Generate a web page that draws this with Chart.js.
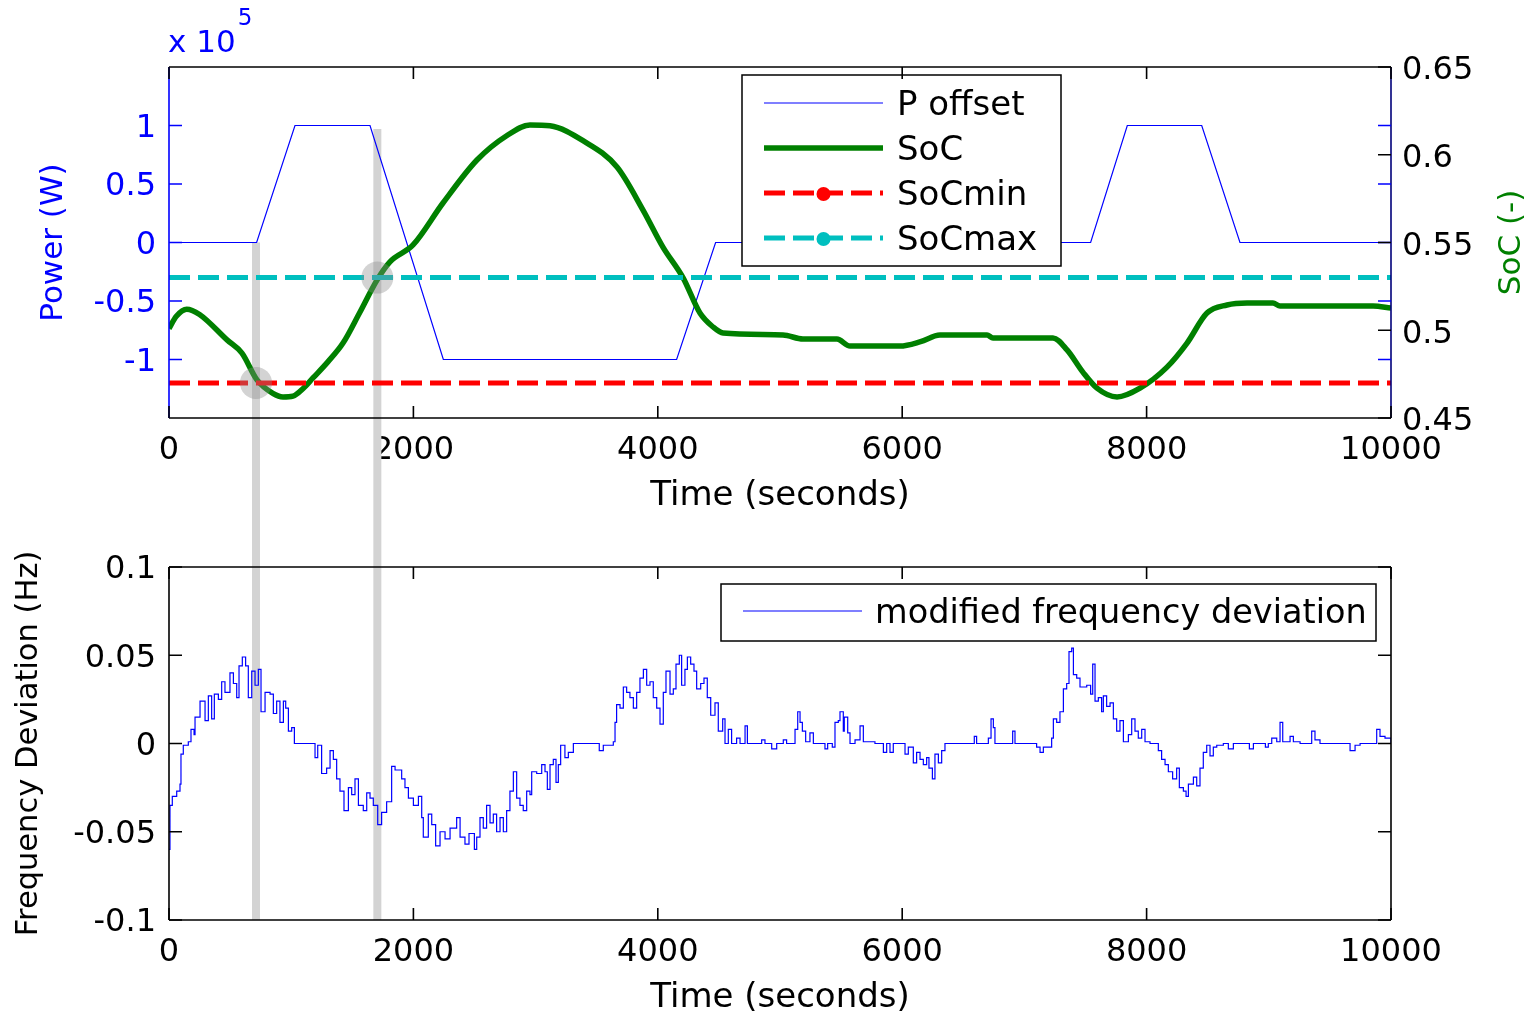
<!DOCTYPE html>
<html>
<head>
<meta charset="utf-8">
<title>P offset, SoC and frequency deviation</title>
<script src="https://cdn.jsdelivr.net/npm/chart.js@4.4.1/dist/chart.umd.min.js"></script>
<style>
    html, body { margin: 0; padding: 0; background: #fff; overflow: hidden; }
    #wrap { position: relative; width: 1534px; height: 1012px; }
    canvas { position: absolute; left: 0; }
    #topChart { top: 0; }
    #bottomChart { top: 530px; }
</style>
</head>
<body>
<div id="wrap">
    <canvas id="topChart" width="1534" height="530"></canvas>
    <canvas id="bottomChart" width="1534" height="500"></canvas>
</div>
<script>
// ---- data ----
const timeTicks = [0, 2000, 4000, 6000, 8000, 10000];
const powerTicks = [-1, -0.5, 0, 0.5, 1];          // x 10^5 W
const socTicks = [0.45, 0.5, 0.55, 0.6, 0.65];
const freqTicks = [-0.1, -0.05, 0, 0.05, 0.1];

const pTime = [0, 717, 1031, 1645, 2245, 4154, 4473, 7542, 7842, 8451, 8764, 10000];
const pValue = [0, 0, 100000, 100000, -100000, -100000, 0, 0, 100000, 100000, 0, 0];

const socTime = [0, 60, 145, 250, 475, 597, 720, 850, 933, 1015, 1100, 1178, 1300, 1424, 1560, 1702, 1808, 1997,
    2242, 2520, 2766, 2954, 3118, 3388, 3666, 3879, 4042, 4206, 4345, 4450, 4534, 5025, 5188, 5466, 5573, 5982,
    6150, 6309, 6694, 6743, 7234, 7349, 7480, 7594, 7758, 7946, 8167, 8331, 8494, 8658, 8822, 9034, 9092, 9853, 10000];
const socValue = [0.501, 0.508, 0.512, 0.509, 0.4945, 0.487, 0.4717, 0.464, 0.462, 0.4625, 0.467, 0.4728, 0.482, 0.4927, 0.510, 0.5286, 0.539, 0.5486,
    0.5725, 0.597, 0.611, 0.617, 0.6165, 0.608, 0.593, 0.5685, 0.5474, 0.530, 0.5098, 0.502, 0.4984, 0.4973, 0.495, 0.495, 0.491, 0.491,
    0.4935, 0.4973, 0.4973, 0.4956, 0.4956, 0.4888, 0.476, 0.467, 0.462, 0.467, 0.479, 0.4927, 0.5098, 0.5144, 0.5155, 0.5155, 0.5138, 0.5138, 0.5127];

const limitTime = [0, 10000];
const socMin = [0.47, 0.47];
const socMax = [0.53, 0.53];

// grey markers: time of the vertical bars, where they start on the power axis, and the SoC crossings
const markTime = [712, 1705];
const markPowerTop = [0, 97000];
const markSoC = [0.47, 0.53];

const freqTime = [0, 8, 27, 63, 90, 98, 117, 158, 180, 205, 213, 254, 295, 322, 349, 371, 404, 431, 458, 499,
    527, 554, 573, 600, 627, 649, 677, 704, 731, 753, 786, 827, 854, 881, 908, 936, 955, 977, 1004, 1026,
    1168, 1195, 1217, 1249, 1290, 1318, 1345, 1372, 1399, 1432, 1468, 1495, 1522, 1550, 1590, 1618, 1645, 1672, 1708, 1740,
    1781, 1822, 1850, 1904, 1931, 1959, 2000, 2041, 2068, 2081, 2122, 2150, 2182, 2218, 2259, 2300, 2354, 2382, 2422, 2455,
    2499, 2518, 2545, 2572, 2599, 2627, 2654, 2681, 2709, 2736, 2763, 2790, 2818, 2845, 2872, 2899, 2927, 2954, 2968, 3009,
    3050, 3077, 3096, 3118, 3145, 3167, 3186, 3205, 3240, 3268, 3309, 3521, 3554, 3636, 3650, 3663, 3691, 3718, 3745, 3772,
    3800, 3827, 3854, 3882, 3909, 3936, 3963, 3991, 4018, 4045, 4067, 4100, 4127, 4149, 4176, 4195, 4222, 4242, 4269, 4296,
    4318, 4351, 4378, 4405, 4433, 4468, 4495, 4531, 4550, 4577, 4604, 4645, 4673, 4714, 4733, 4850, 4877, 4932, 4973, 5027,
    5054, 5123, 5145, 5164, 5183, 5210, 5245, 5273, 5368, 5390, 5428, 5450, 5477, 5491, 5518, 5526, 5554, 5573, 5614, 5655,
    5682, 5777, 5846, 5873, 5900, 5927, 6023, 6050, 6091, 6118, 6146, 6173, 6200, 6219, 6247, 6268, 6296, 6323, 6350, 6590,
    6609, 6705, 6727, 6746, 6759, 6904, 6923, 7100, 7128, 7155, 7223, 7237, 7264, 7291, 7319, 7346, 7365, 7387, 7401, 7428,
    7455, 7510, 7542, 7559, 7578, 7605, 7632, 7646, 7673, 7701, 7728, 7755, 7782, 7810, 7851, 7878, 7905, 7932, 7960, 7987,
    8028, 8096, 8123, 8151, 8178, 8213, 8246, 8268, 8301, 8323, 8342, 8383, 8410, 8437, 8464, 8492, 8519, 8546, 8574, 8628,
    8669, 8710, 8841, 8874, 8972, 8996, 9024, 9065, 9092, 9114, 9174, 9201, 9256, 9351, 9378, 9419, 9665, 9706, 9747, 9883,
    9910, 9951, 10000];
const freqValue = [-0.060, -0.035, -0.030, -0.027, -0.023, -0.006, -0.001, 0.001, 0.008, 0.005, 0.015, 0.024, 0.013, 0.027, 0.014, 0.028, 0.025, 0.035, 0.029, 0.040,
    0.034, 0.026, 0.044, 0.049, 0.044, 0.026, 0.041, 0.033, 0.042, 0.018, 0.029, 0.028, 0.017, 0.024, 0.012, 0.024, 0.020, 0.007, 0.009, 0.000,
    0.000, -0.008, -0.001, -0.017, -0.014, -0.004, -0.009, -0.020, -0.027, -0.038, -0.025, -0.029, -0.020, -0.035, -0.038, -0.028, -0.031, -0.035, -0.046, -0.039,
    -0.033, -0.013, -0.015, -0.020, -0.025, -0.031, -0.035, -0.030, -0.042, -0.053, -0.040, -0.046, -0.058, -0.050, -0.054, -0.048, -0.042, -0.053, -0.057, -0.051,
    -0.060, -0.053, -0.042, -0.048, -0.035, -0.045, -0.040, -0.050, -0.042, -0.050, -0.038, -0.027, -0.016, -0.031, -0.035, -0.038, -0.027, -0.029, -0.016, -0.017,
    -0.012, -0.016, -0.026, -0.012, -0.009, -0.022, -0.012, -0.001, -0.008, -0.005, 0.000, -0.004, -0.001, 0.001, 0.012, 0.022, 0.020, 0.032, 0.029, 0.026,
    0.020, 0.029, 0.037, 0.042, 0.033, 0.035, 0.026, 0.020, 0.011, 0.029, 0.041, 0.028, 0.031, 0.045, 0.050, 0.033, 0.042, 0.049, 0.045, 0.041,
    0.031, 0.034, 0.037, 0.026, 0.016, 0.023, 0.007, 0.014, 0.000, 0.008, 0.000, 0.003, 0.000, 0.010, 0.000, 0.002, 0.000, -0.003, 0.000, 0.002,
    0.000, 0.008, 0.018, 0.012, 0.007, 0.001, 0.006, 0.000, -0.003, 0.000, -0.002, 0.012, 0.013, 0.018, 0.007, 0.015, 0.006, 0.000, 0.002, 0.010,
    0.001, 0.000, -0.005, 0.000, -0.005, 0.000, -0.006, -0.002, -0.011, -0.005, -0.009, -0.012, -0.008, -0.014, -0.020, -0.006, -0.011, -0.004, 0.000, 0.004,
    0.000, 0.003, 0.014, 0.009, 0.000, 0.007, 0.000, -0.002, -0.005, -0.002, 0.003, 0.014, 0.012, 0.018, 0.031, 0.034, 0.052, 0.054, 0.039, 0.037,
    0.032, 0.033, 0.028, 0.045, 0.024, 0.026, 0.018, 0.027, 0.021, 0.023, 0.014, 0.007, 0.013, 0.001, 0.005, 0.014, 0.007, 0.003, 0.008, 0.001,
    0.000, -0.004, -0.009, -0.012, -0.016, -0.020, -0.014, -0.025, -0.027, -0.030, -0.023, -0.019, -0.024, -0.014, -0.005, -0.001, -0.007, -0.002, -0.001, 0.000,
    -0.003, 0.000, -0.003, 0.000, -0.002, 0.000, 0.003, 0.001, 0.012, 0.001, 0.004, 0.001, 0.000, 0.007, 0.002, 0.000, -0.004, -0.001, 0.000, 0.008,
    0.004, 0.003, 0.000];

// ---- helpers ----
const FONT = "'DejaVu Sans', sans-serif";
const toXY = (xs, ys) => xs.map((x, i) => ({ x: x, y: ys[i] }));
const fixTicks = (values) => (axis) => { axis.ticks = values.map(v => ({ value: v })); };
const numLabel = (v) => String(+v.toFixed(3));

function tickMarks(ctx, chart, scaleId, sides, color, len) {
    const s = chart.scales[scaleId];
    const a = chart.chartArea;
    ctx.strokeStyle = color;
    ctx.beginPath();
    s.ticks.forEach(tk => {
        const p = s.getPixelForValue(tk.value);
        sides.forEach(side => {
            if (side === "bottom") { ctx.moveTo(p, a.bottom); ctx.lineTo(p, a.bottom - len); }
            if (side === "top") { ctx.moveTo(p, a.top); ctx.lineTo(p, a.top + len); }
            if (side === "left") { ctx.moveTo(a.left, p); ctx.lineTo(a.left + len, p); }
            if (side === "right") { ctx.moveTo(a.right, p); ctx.lineTo(a.right - len, p); }
        });
    });
    ctx.stroke();
}

// draws MATLAB style decorations: grey bars, circles, box legend, axes frame with inner ticks
const matlabPlugin = {
    id: "matlab",
    beforeDatasetsDraw(chart, args, o) {
        if (!o.bars) return;
        const { ctx, chartArea: a } = chart;
        const xs = chart.scales.x;
        ctx.save();
        ctx.fillStyle = "#d3d3d3";
        o.bars.times.forEach((t, i) => {
            const x = xs.getPixelForValue(t);
            let y0 = 0, y1 = a.bottom;
            if (o.bars.down) {
                y0 = chart.scales[o.bars.scale].getPixelForValue(o.bars.tops[i]);
                y1 = chart.height;
            }
            ctx.fillRect(x - o.bars.width / 2, y0, o.bars.width, y1 - y0);
        });
        ctx.restore();
    },
    afterDatasetsDraw(chart, args, o) {
        const { ctx, chartArea: a } = chart;
        ctx.save();

        if (o.circles) {
            const xs = chart.scales.x, ys = chart.scales[o.circles.scale];
            ctx.fillStyle = "rgba(140,140,140,0.38)";
            o.circles.times.forEach((t, i) => {
                ctx.beginPath();
                ctx.arc(xs.getPixelForValue(t), ys.getPixelForValue(o.circles.values[i]), o.circles.radius, 0, Math.PI * 2);
                ctx.fill();
            });
        }

        if (o.legend) {
            const L = o.legend;
            ctx.fillStyle = "#fff";
            ctx.fillRect(L.box[0], L.box[1], L.box[2], L.box[3]);
            ctx.lineWidth = 1.5;
            ctx.strokeStyle = "#000";
            ctx.strokeRect(L.box[0], L.box[1], L.box[2], L.box[3]);
            ctx.font = L.fontSize + "px " + FONT;
            ctx.textBaseline = "middle";
            ctx.textAlign = "left";
            chart.data.datasets.forEach((ds, i) => {
                const y = L.rows[i];
                ctx.strokeStyle = ds.borderColor;
                ctx.lineWidth = ds.borderWidth;
                ctx.setLineDash(ds.borderDash || []);
                ctx.beginPath();
                ctx.moveTo(L.x0, y);
                ctx.lineTo(L.x1, y);
                ctx.stroke();
                ctx.setLineDash([]);
                if (ds.legendMarker) {
                    ctx.fillStyle = ds.borderColor;
                    ctx.beginPath();
                    ctx.arc((L.x0 + L.x1) / 2, y + 1, 7, 0, Math.PI * 2);
                    ctx.fill();
                }
                ctx.fillStyle = "#000";
                ctx.fillText(ds.label, L.textX, y + 3);
            });
        }

        // axes frame
        ctx.lineWidth = 1.6;
        const f = o.frame;
        const seg = (x0, y0, x1, y1, c) => {
            ctx.strokeStyle = c;
            ctx.beginPath(); ctx.moveTo(x0, y0); ctx.lineTo(x1, y1); ctx.stroke();
        };
        seg(a.left, a.top, a.right, a.top, f.top);
        seg(a.left, a.bottom, a.right, a.bottom, f.bottom);
        seg(a.left, a.top, a.left, a.bottom, f.left);
        seg(a.right, a.top, a.right, a.bottom, f.right);
        o.ticks.forEach(t => tickMarks(ctx, chart, t.scale, t.sides, t.color, t.len));

        if (o.exponent) {
            const e = o.exponent;
            ctx.fillStyle = e.color;
            ctx.textAlign = "left";
            ctx.textBaseline = "alphabetic";
            ctx.font = e.size + "px " + FONT;
            ctx.fillText(e.base, a.left - 1, a.top - 15);
            const w = ctx.measureText(e.base).width;
            ctx.font = e.expSize + "px " + FONT;
            ctx.fillText(e.exp, a.left + w + 1, a.top - 42);
        }

        if (o.rightTitle) {
            const r = o.rightTitle;
            const s = chart.scales[r.scale];
            ctx.fillStyle = r.color;
            ctx.font = r.size + "px " + FONT;
            ctx.textAlign = "center";
            ctx.textBaseline = "middle";
            ctx.translate(s.right - r.offset, (a.top + a.bottom) / 2);
            ctx.rotate(-Math.PI / 2);
            ctx.fillText(r.text, 0, 0);
        }
        ctx.restore();
    }
};

const xScale = (height, titlePad) => ({
    type: "linear",
    min: 0,
    max: 10000,
    afterBuildTicks: fixTicks(timeTicks),
    afterFit: (s) => { s.height = height; },
    grid: { display: false, drawTicks: false },
    border: { display: false },
    ticks: { color: "#000", padding: 13, maxRotation: 0, autoSkip: false, font: { family: FONT, size: 32 }, callback: (v) => String(v) },
    title: { display: true, text: "Time (seconds)", color: "#000", font: { family: FONT, size: 34 }, padding: { top: 0, bottom: titlePad } }
});

// ---- top: power offset and state of charge ----
new Chart(document.getElementById("topChart"), {
    type: "line",
    data: {
        datasets: [
            { label: "P offset", data: toXY(pTime, pValue), yAxisID: "yP", borderColor: "#0000ff", borderWidth: 1.2, pointRadius: 0, order: 4 },
            { label: "SoC", data: toXY(socTime, socValue), yAxisID: "yS", borderColor: "#008000", borderWidth: 5.5, pointRadius: 0, cubicInterpolationMode: "monotone", order: 3 },
            { label: "SoCmin", data: toXY(limitTime, socMin), yAxisID: "yS", borderColor: "#ff0000", borderWidth: 5, borderDash: [21, 8], pointRadius: 0, legendMarker: true, order: 2 },
            { label: "SoCmax", data: toXY(limitTime, socMax), yAxisID: "yS", borderColor: "#00bfbf", borderWidth: 5, borderDash: [21, 8], pointRadius: 0, legendMarker: true, order: 1 }
        ]
    },
    options: {
        responsive: false,
        animation: false,
        devicePixelRatio: 1,
        layout: { padding: { top: 67, left: 0, right: 0, bottom: 0 } },
        plugins: {
            legend: { display: false },
            tooltip: { enabled: false },
            matlab: {
                bars: { times: markTime, tops: markPowerTop, scale: "yP", width: 8, down: true },
                circles: { times: markTime, values: markSoC, scale: "yS", radius: 16 },
                legend: { box: [742, 75, 319, 191], rows: [103, 148, 193, 238], x0: 764, x1: 883, textX: 897, fontSize: 34 },
                frame: { top: "#000", bottom: "#000", left: "#0000ff", right: "#00007a" },
                ticks: [
                    { scale: "x", sides: ["top", "bottom"], color: "#000", len: 12 },
                    { scale: "yP", sides: ["left", "right"], color: "#0000ff", len: 13 },
                    { scale: "yS", sides: ["right"], color: "#000", len: 13 }
                ],
                exponent: { base: "x 10", exp: "5", color: "#0000ff", size: 31, expSize: 23 },
                rightTitle: { scale: "yS", text: "SoC (-)", color: "#008000", size: 31, offset: 22 }
            }
        },
        scales: {
            x: xScale(112, 13),
            yP: {
                position: "left",
                min: -150000,
                max: 150000,
                afterBuildTicks: fixTicks(powerTicks.map(v => v * 100000)),
                afterFit: (s) => { s.width = 169; },
                grid: { display: false, drawTicks: false },
                border: { display: false },
                ticks: { color: "#0000ff", padding: 13, labelOffset: 3, font: { family: FONT, size: 32 }, callback: (v) => numLabel(v / 100000) },
                title: { display: true, text: "Power (W)", color: "#0000ff", font: { family: FONT, size: 31 }, padding: { top: 35, bottom: 0 } }
            },
            yS: {
                position: "right",
                min: 0.45,
                max: 0.65,
                afterBuildTicks: fixTicks(socTicks),
                afterFit: (s) => { s.width = 143; },
                grid: { display: false, drawTicks: false },
                border: { display: false },
                ticks: { color: "#000", padding: 11, labelOffset: 4, font: { family: FONT, size: 32 }, callback: (v) => numLabel(v) }
            }
        }
    },
    plugins: [matlabPlugin]
});

// ---- bottom: frequency deviation ----
new Chart(document.getElementById("bottomChart"), {
    type: "line",
    data: {
        datasets: [
            { label: "modified frequency deviation", data: toXY(freqTime, freqValue), borderColor: "#0000ff", borderWidth: 1.2, pointRadius: 0, stepped: true }
        ]
    },
    options: {
        responsive: false,
        animation: false,
        devicePixelRatio: 1,
        layout: { padding: { top: 37, left: 0, right: 143, bottom: 0 } },
        plugins: {
            legend: { display: false },
            tooltip: { enabled: false },
            matlab: {
                bars: { times: markTime, width: 8, down: false },
                legend: { box: [721, 54, 655, 57], rows: [81], x0: 743, x1: 862, textX: 875, fontSize: 33.5 },
                frame: { top: "#000", bottom: "#000", left: "#000", right: "#000" },
                ticks: [
                    { scale: "x", sides: ["top", "bottom"], color: "#000", len: 12 },
                    { scale: "y", sides: ["left", "right"], color: "#000", len: 13 }
                ]
            }
        },
        scales: {
            x: xScale(110, 11),
            y: {
                position: "left",
                min: -0.1,
                max: 0.1,
                afterBuildTicks: fixTicks(freqTicks),
                afterFit: (s) => { s.width = 169; },
                grid: { display: false, drawTicks: false },
                border: { display: false },
                ticks: { color: "#000", padding: 13, labelOffset: 3, font: { family: FONT, size: 32 }, callback: (v) => numLabel(v) },
                title: { display: true, text: "Frequency Deviation (Hz)", color: "#000", font: { family: FONT, size: 30.5 }, padding: { top: 11, bottom: 0 } }
            }
        }
    },
    plugins: [matlabPlugin]
});
</script>
</body>
</html>
